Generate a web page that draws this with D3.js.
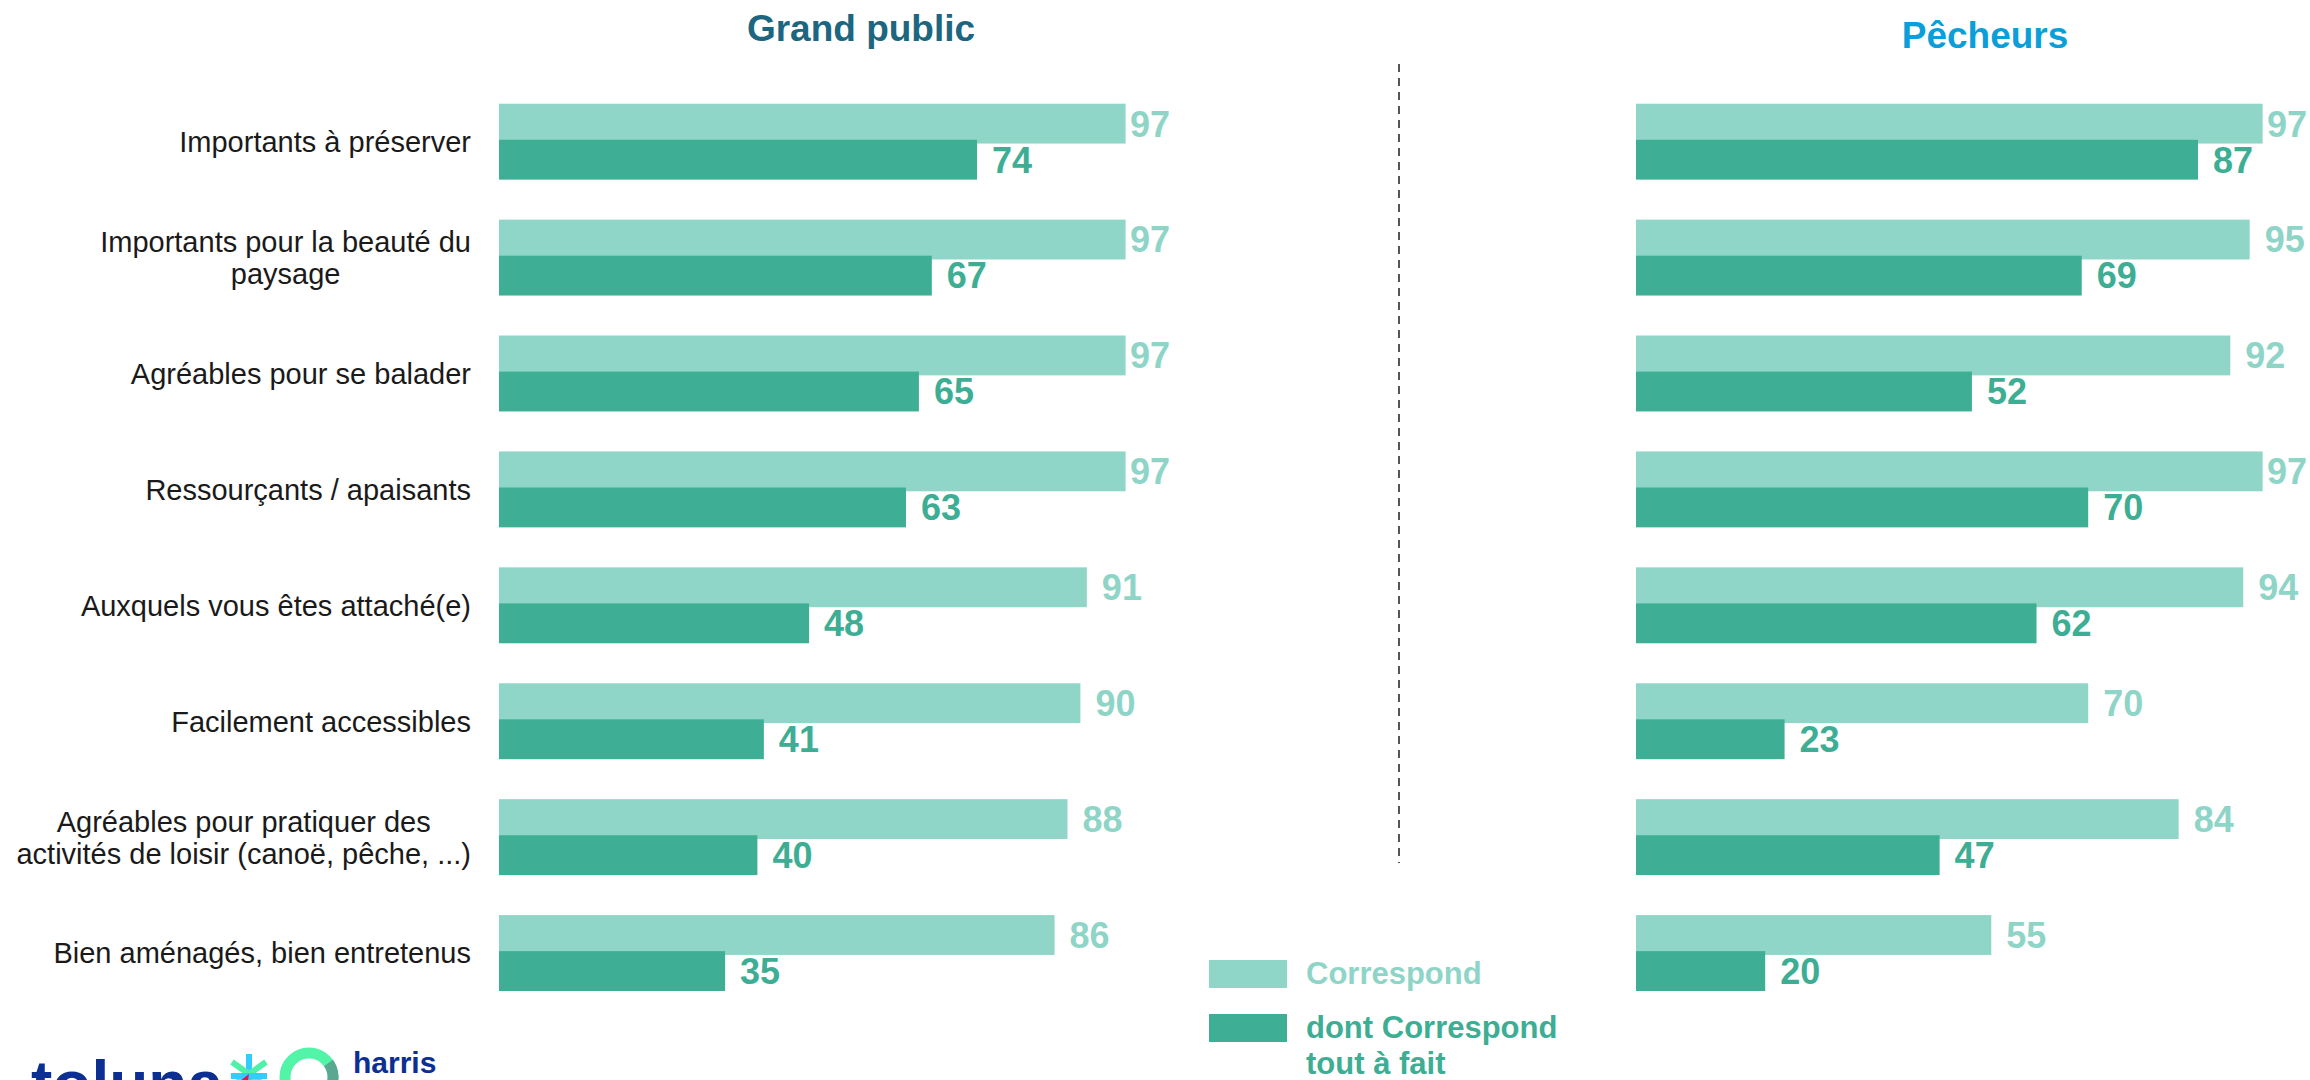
<!DOCTYPE html>
<html>
<head>
<meta charset="utf-8">
<script src="https://cdn.jsdelivr.net/npm/d3@7"></script>
<style>
  html, body { margin: 0; padding: 0; background: #ffffff; }
  svg { display: block; }
  text { font-family: "Liberation Sans", Arial, sans-serif; }
</style>
</head>
<body>
<svg id="chart" width="2310" height="1080"></svg>
<script>
// ---------- data ----------
const categories = [
  "Importants à préserver",
  "Importants pour la beauté du\npaysage",
  "Agréables pour se balader",
  "Ressourçants / apaisants",
  "Auxquels vous êtes attaché(e)",
  "Facilement accessibles",
  "Agréables pour pratiquer des\nactivités de loisir (canoë, pêche, ...)",
  "Bien aménagés, bien entretenus"
];
const grandPublicCorrespond = [97, 97, 97, 97, 91, 90, 88, 86];
const grandPublicToutAFait  = [74, 67, 65, 63, 48, 41, 40, 35];
const pecheursCorrespond    = [97, 95, 92, 97, 94, 70, 84, 55];
const pecheursToutAFait     = [87, 69, 52, 70, 62, 23, 47, 20];
const panelTitles = ["Grand public", "Pêcheurs"];
const legendLabels = ["Correspond", "dont Correspond\ntout à fait"];

// ---------- styles ----------
const LIGHT = "#90d6c8";
const DARK = "#3eae95";
const LIGHT_TXT = "#8fd5c7";
const DARK_TXT = "#3dae94";

const svg = d3.select("#chart");

const y = d3.scaleBand()
  .domain(categories)
  .range([103.7, 991])
  .paddingInner(0.345)
  .paddingOuter(0);

const bw = y.bandwidth();
const barH = bw * 0.525;
const darkOff = bw - barH;

const panels = [
  { title: panelTitles[0], titleColor: "#1c6680", titleY: 41, titleX: 861, x0: 499, light: grandPublicCorrespond, dark: grandPublicToutAFait },
  { title: panelTitles[1], titleColor: "#0a9fd9", titleY: 48, titleX: 1985, x0: 1636, light: pecheursCorrespond, dark: pecheursToutAFait }
];

panels.forEach(p => {
  const x = d3.scaleLinear().domain([0, 100]).range([p.x0, p.x0 + 646]);
  const g = svg.append("g");
  const rows = categories.map((c, i) => ({ c, l: p.light[i], d: p.dark[i] }));

  g.selectAll("rect.light").data(rows).join("rect")
    .attr("class", "light")
    .attr("x", x(0)).attr("y", d => y(d.c))
    .attr("width", d => x(d.l) - x(0)).attr("height", barH)
    .attr("fill", LIGHT);

  g.selectAll("rect.dark").data(rows).join("rect")
    .attr("class", "dark")
    .attr("x", x(0)).attr("y", d => y(d.c) + darkOff)
    .attr("width", d => x(d.d) - x(0)).attr("height", barH)
    .attr("fill", DARK);

  const fs = 36;
  g.selectAll("text.lv").data(rows).join("text")
    .attr("class", "lv")
    .attr("x", d => Math.min(x(d.l) + 15, x(100) - 15))
    .attr("y", d => y(d.c) + barH / 2 + fs * 0.716 / 2)
    .attr("font-size", fs).attr("font-weight", "bold")
    .attr("fill", LIGHT_TXT)
    .text(d => d.l);

  g.selectAll("text.dv").data(rows).join("text")
    .attr("class", "dv")
    .attr("x", d => Math.min(x(d.d) + 15, x(100) - 15))
    .attr("y", d => y(d.c) + darkOff + barH / 2 + fs * 0.716 / 2)
    .attr("font-size", fs).attr("font-weight", "bold")
    .attr("fill", DARK_TXT)
    .text(d => d.d);

  svg.append("text")
    .attr("x", p.titleX)
    .attr("y", p.titleY)
    .attr("text-anchor", "middle")
    .attr("font-size", 37).attr("font-weight", "bold")
    .attr("fill", p.titleColor)
    .text(p.title);
});

// ---------- category labels ----------
const catFs = 29;
const catRight = 471;
categories.forEach(c => {
  const lines = c.split("\n");
  const cy = y(c) + bw / 2;
  const t = svg.append("text")
    .attr("font-size", catFs)
    .attr("fill", "#1a1a1a")
    .attr("text-anchor", "middle");
  const spans = lines.map((ln, i) => t.append("tspan")
    .attr("y", cy + catFs * 0.716 / 2 + (i - (lines.length - 1) / 2) * 32)
    .text(ln));
  const maxW = d3.max(spans, s => s.node().getComputedTextLength());
  spans.forEach(s => s.attr("x", catRight - maxW / 2));
});

// ---------- separator ----------
svg.append("line")
  .attr("x1", 1399).attr("x2", 1399)
  .attr("y1", 64).attr("y2", 863)
  .attr("stroke", "#555555").attr("stroke-width", 2)
  .attr("stroke-dasharray", "8,6");

// ---------- legend ----------
const legend = svg.append("g");
const legendColors = [[LIGHT, LIGHT_TXT], [DARK, DARK_TXT]];
const legendTops = [960, 1014];
legendLabels.forEach((lab, i) => {
  legend.append("rect")
    .attr("x", 1209).attr("y", legendTops[i])
    .attr("width", 78).attr("height", 28)
    .attr("fill", legendColors[i][0]);
  const t = legend.append("text")
    .attr("font-size", 31).attr("font-weight", "bold")
    .attr("fill", legendColors[i][1]);
  lab.split("\n").forEach((ln, j) => {
    t.append("tspan").attr("x", 1306).attr("y", legendTops[i] + 24 + j * 36).text(ln);
  });
});

// ---------- logo (approximation) ----------
const logo = svg.append("g");
logo.append("text")
  .attr("x", 31).attr("y", 1106)
  .attr("font-family", "Lato, 'Noto Sans', sans-serif")
  .attr("font-size", 64).attr("font-weight", "bold")
  .attr("fill", "#0b2f92")
  .text("toluna");
const ax = 249, ay = 1074;
logo.append("line").attr("x1", ax).attr("y1", ay - 20).attr("x2", ax).attr("y2", ay + 20).attr("stroke", "#33ccff").attr("stroke-width", 6);
logo.append("line").attr("x1", ax - 17).attr("y1", ay - 12).attr("x2", ax + 17).attr("y2", ay + 12).attr("stroke", "#4ff0a8").attr("stroke-width", 6);
logo.append("line").attr("x1", ax - 17).attr("y1", ay + 12).attr("x2", ax + 17).attr("y2", ay - 12).attr("stroke", "#4ff0a8").attr("stroke-width", 6);
logo.append("line").attr("x1", ax - 18).attr("y1", ay + 2).attr("x2", ax + 18).attr("y2", ay + 2).attr("stroke", "#33ccff").attr("stroke-width", 6);
logo.append("path").attr("d", `M${ax - 18},${ay + 14} L${ax},${ay} L${ax - 3},${ay + 20}`).attr("fill", "#e8144a");
logo.append("circle").attr("cx", 309).attr("cy", 1077).attr("r", 24)
  .attr("fill", "none").attr("stroke", "#52f5a8").attr("stroke-width", 11);
logo.append("path")
  .attr("d", d3.arc()({ innerRadius: 18.5, outerRadius: 29.5, startAngle: Math.PI * 0.3, endAngle: Math.PI * 1.0 }))
  .attr("transform", "translate(309,1077)")
  .attr("fill", "#5aa892");
logo.append("text")
  .attr("x", 353).attr("y", 1073)
  .attr("font-family", "Lato, 'Noto Sans', sans-serif")
  .attr("font-size", 30).attr("font-weight", "bold")
  .attr("fill", "#0b2f92")
  .text("harris");
</script>
</body>
</html>
